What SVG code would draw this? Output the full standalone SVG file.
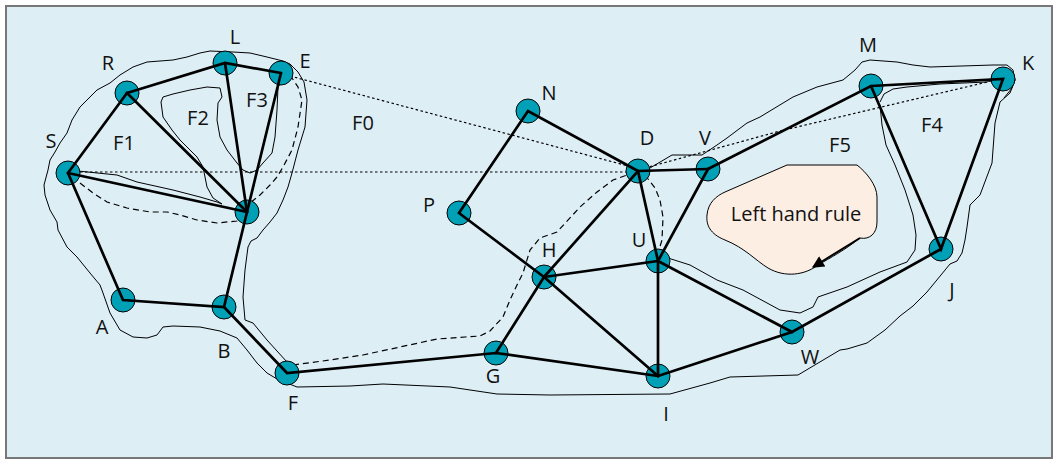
<svg xmlns="http://www.w3.org/2000/svg" width="1058" height="462" viewBox="0 0 1058 462">
<style>
.bg{fill:#ddeef5;stroke:#777;stroke-width:2}
.edge{stroke:#000;stroke-width:2.7;stroke-linecap:round;fill:none}
.thin{stroke:#000;stroke-width:1;fill:none;stroke-linejoin:round}
.dot{stroke:#000;stroke-width:1.2;fill:none;stroke-dasharray:2.5 2.5}
.dash{stroke:#000;stroke-width:1.2;fill:none;stroke-dasharray:6 4}
.node{fill:#00a0b6;stroke:#000;stroke-width:1}
.lbl{font-family:"Open Sans","DejaVu Sans",sans-serif;font-size:20px;fill:#111;text-anchor:middle}
</style>
<defs>
<marker id="ah" viewBox="0 0 10 10" refX="9" refY="5" markerWidth="15" markerHeight="12" markerUnits="userSpaceOnUse" orient="auto">
<path d="M0,0 L10,5 L0,10 Z" fill="#000"/>
</marker>
</defs>
<rect class="bg" x="6" y="6" width="1046" height="452"/>
<g id="faces">
<path class="thin" d="M287,362 L267,340 L253,323 L245,320 L243,297 L245,270 L248,247 L251,241 L257,238 L263,230 L270,222 L277,213 L283,200 L288,187 L292,173 L298,150 L305,127 L307,100 L304,82 L298,72 L290,64 L283,61 L267,57 L250,53 L233,52 L210,51 L200,53 L187,57 L173,60 L147,62 L133,67 L120,75 L110,83 L97,90 L90,97 L80,107 L72,120 L67,133 L60,143 L55,152 L50,160 L48,170 L44,185 L45,195 L50,210 L57,222 L58,230 L67,247 L77,257 L90,273 L100,285 L103,293 L110,313 L120,330 L133,337 L147,338 L157,335 L163,327 L173,326 L200,327 L220,331 L237,338 L247,350 L257,363 L267,373 L277,379 L287,383 L297,387 L350,386 L383,384 L450,387 L497,394 L550,395 L670,394 L710,383 L730,377 L798,375 L840,350 L847,349 L867,343 L885,330 L900,316 L913,306 L927,292 L950,264 L957,261 L962,253 L965,240 L967,227 L970,205 L980,195 L992,163 L995,123 L1000,102 L1010,93 L1015,80 L1013,70 L1007,65 L993,65 L930,67 L913,65 L897,62 L870,60 L862,62 L855,70 L843,80 L817,87 L793,97 L760,117 L747,123 L727,138 L717,145 L702,155 L672,155 L650,168"/>
<path class="thin" d="M78,171 L117,175 L137,182 L173,190 L200,197 L217,202 L222,204 L213,198 L207,187 L205,177 L203,167 L197,157 L188,148 L180,140 L172,130 L163,117 L161,102 L163,97 L173,94 L190,90 L207,87 L220,88 L222,97 L218,103 L217,120 L220,137 L227,150 L237,163 L243,170 L250,173 L257,170 L263,163 L272,153 L275,137 L277,110 L278,87 L285,78"/>
<path class="thin" d="M668,258 L690,265 L717,280 L743,290 L780,310 L800,313 L813,307 L818,297 L847,287 L880,272 L907,262 L915,250 L916,235 L913,215 L905,190 L895,165 L886,145 L882,125 L880,105"/>
<path class="thin" d="M880,102 L884,94 L893,89 L907,87 L940,84 L987,82 L997,77 L1004,69 L1012,73 L1015,80 L1012,88 L1004,98"/>
<path class="dot" d="M70,172 L636,172"/>
<path class="dot" d="M290,76 L632,167"/>
<path class="dot" d="M645,168 L780,131 L1000,79"/>
<path class="dash" d="M293,365 L330,360 L363,355 L400,347 L437,339 L465,337 L480,336 L490,331 L503,317 L510,300 L517,285 L523,273 L530,250 L540,238 L557,232 L580,207 L597,192 L613,180 L633,173"/>
<path class="dash" d="M645,175 L655,188 L660,200 L663,217 L662,240 L658,253"/>
<path class="dash" d="M80,183 L93,193 L107,202 L127,208 L150,212 L167,212 L180,215 L197,220 L217,223 L237,221 L242,218"/>
<path class="dash" d="M290,75 L298,87 L302,100 L298,127 L292,150 L283,167 L277,177 L270,185 L260,195 L250,203"/>
</g>
<g id="note">
<path d="M787,165 L857,165 C866,172 877,185 877,197 L877,222 C877,233 870,240 860,238 C845,250 830,258 818,265 C805,275 785,278 768,268 C755,260 745,248 725,240 C710,234 706,225 707,215 C708,203 716,196 725,192 Z" fill="#fdeee4" stroke="#000" stroke-width="1"/>
<text class="lbl" x="796" y="221">Left hand rule</text>
<line x1="860" y1="238" x2="813" y2="267" stroke="#000" stroke-width="2" marker-end="url(#ah)"/>
</g>
<g id="node-R"><circle class="node" cx="127" cy="93" r="12"/><text class="lbl" x="108" y="70">R</text></g>
<g id="node-L"><circle class="node" cx="225" cy="63" r="12"/><text class="lbl" x="235" y="44">L</text></g>
<g id="node-E"><circle class="node" cx="281" cy="73" r="12"/><text class="lbl" x="305" y="68">E</text></g>
<g id="node-S"><circle class="node" cx="68" cy="173" r="12"/><text class="lbl" x="51" y="148">S</text></g>
<g id="node-X"><circle class="node" cx="247" cy="212" r="12"/></g>
<g id="node-A"><circle class="node" cx="123" cy="300" r="12"/><text class="lbl" x="102" y="334">A</text></g>
<g id="node-B"><circle class="node" cx="224" cy="307" r="12"/><text class="lbl" x="224" y="358">B</text></g>
<g id="node-F"><circle class="node" cx="287" cy="373" r="12"/><text class="lbl" x="293" y="410">F</text></g>
<g id="node-N"><circle class="node" cx="528" cy="111" r="12"/><text class="lbl" x="549" y="100">N</text></g>
<g id="node-D"><circle class="node" cx="638" cy="171" r="12"/><text class="lbl" x="647" y="145">D</text></g>
<g id="node-V"><circle class="node" cx="708" cy="169" r="12"/><text class="lbl" x="705" y="145">V</text></g>
<g id="node-P"><circle class="node" cx="459" cy="213" r="12"/><text class="lbl" x="429" y="212">P</text></g>
<g id="node-H"><circle class="node" cx="544" cy="277" r="12"/><text class="lbl" x="549" y="257">H</text></g>
<g id="node-U"><circle class="node" cx="658" cy="261" r="12"/><text class="lbl" x="639" y="247">U</text></g>
<g id="node-G"><circle class="node" cx="496" cy="353" r="12"/><text class="lbl" x="493" y="383">G</text></g>
<g id="node-I"><circle class="node" cx="658" cy="376" r="12"/><text class="lbl" x="666" y="421">I</text></g>
<g id="node-W"><circle class="node" cx="792" cy="332" r="12"/><text class="lbl" x="810" y="364">W</text></g>
<g id="node-J"><circle class="node" cx="941" cy="249" r="12"/><text class="lbl" x="952" y="297">J</text></g>
<g id="node-M"><circle class="node" cx="871" cy="86" r="12"/><text class="lbl" x="868" y="52">M</text></g>
<g id="node-K"><circle class="node" cx="1003" cy="79" r="12"/><text class="lbl" x="1028" y="70">K</text></g>
<g id="faces-labels">
<text class="lbl" x="124" y="150">F1</text>
<text class="lbl" x="198" y="125">F2</text>
<text class="lbl" x="257" y="107">F3</text>
<text class="lbl" x="363" y="130">F0</text>
<text class="lbl" x="840" y="152">F5</text>
<text class="lbl" x="932" y="132">F4</text>
</g>
<g id="connectors">
<path class="edge" d="M127,93 L225,63 L281,73"/>
<path class="edge" d="M127,93 L68,173"/>
<path class="edge" d="M127,93 L247,212"/>
<path class="edge" d="M225,63 L247,212"/>
<path class="edge" d="M281,73 L247,212"/>
<path class="edge" d="M68,173 L247,212"/>
<path class="edge" d="M68,173 L123,300 L224,307 L247,212"/>
<path class="edge" d="M224,307 L287,373 L496,353 L658,376"/>
<path class="edge" d="M496,353 L544,277 L459,213 L528,111 L638,171"/>
<path class="edge" d="M544,277 L638,171 L708,169"/>
<path class="edge" d="M638,171 L658,261"/>
<path class="edge" d="M544,277 L658,261 L658,376"/>
<path class="edge" d="M544,277 L658,376"/>
<path class="edge" d="M658,261 L708,169"/>
<path class="edge" d="M658,261 L792,332"/>
<path class="edge" d="M658,376 L792,332 L941,249"/>
<path class="edge" d="M708,169 L871,86 L1003,79 L941,249 L871,86"/>
</g>
</svg>
